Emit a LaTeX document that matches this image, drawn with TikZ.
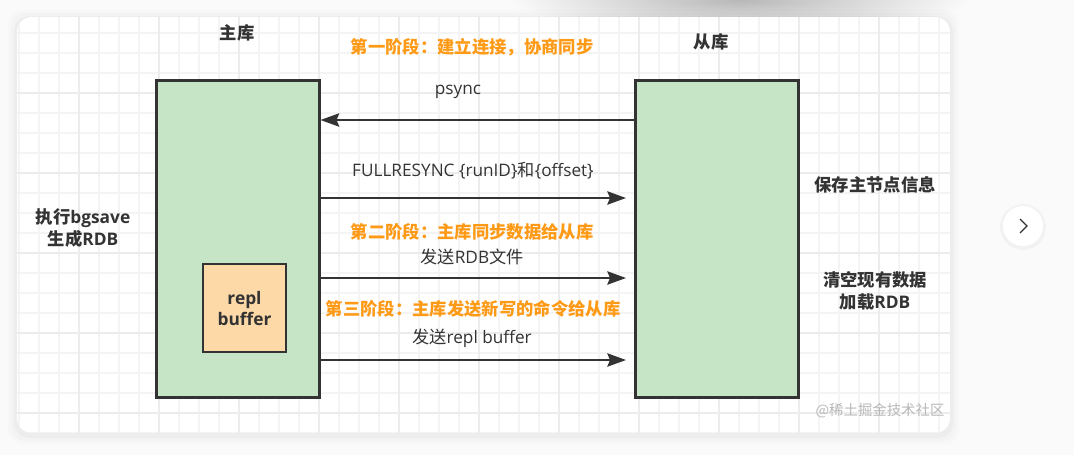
\documentclass[tikz,border=0pt]{standalone}
\usepackage{fontspec}
\setmainfont{Noto Sans CJK SC}
\newfontfamily\latinfont{Open Sans}
\usetikzlibrary{arrows.meta}

\definecolor{boxgreen}{HTML}{C6E4C6}
\definecolor{bufferorange}{HTML}{FDD9A8}
\definecolor{phaseorange}{HTML}{FF9A16}
\definecolor{inkgray}{HTML}{333333}
\definecolor{gridminor}{HTML}{F4F4F4}
\definecolor{gridmajor}{HTML}{ECECEC}
\definecolor{pagegray}{HTML}{FAFAFA}
\definecolor{marklight}{HTML}{B8B8B8}

\tikzset{
  dbbox/.style={draw=inkgray, line width=1.9pt, fill=boxgreen, inner sep=0pt,
    minimum width=122.25pt, minimum height=237.75pt, anchor=north west},
  bufbox/.style={draw=inkgray, line width=1.6pt, fill=bufferorange, inner sep=0pt,
    minimum width=62.25pt, minimum height=66pt, align=center,
    font=\bfseries\fontsize{13}{15.75}\selectfont, text=inkgray},
  dbtitle/.style={font=\bfseries\fontsize{13}{16}\selectfont, text=inkgray},
  phasetext/.style={font=\bfseries\fontsize{13}{16}\selectfont, text=phaseorange},
  msgtext/.style={font=\fontsize{12.9}{15}\selectfont, text=inkgray},
  sidenote/.style={font=\bfseries\fontsize{13}{16.5}\selectfont, text=inkgray, align=center},
  msgarrow/.style={draw=inkgray, line width=1.5pt,
    -{Stealth[length=14pt, width=10pt, inset=2pt]}}
}

\begin{document}
\begin{tikzpicture}[x=0.75pt, y=-0.75pt]
\useasboundingbox (0,0) rectangle (1074,455);
\fill[pagegray] (0,0) rectangle (1074,455);

% shadow of the header above
\shade[inner color=black!28, outer color=pagegray] (740,0) ellipse [x radius=230, y radius=34];

% card with soft shadow
\foreach \s/\o in {9/0.012, 6/0.016, 3/0.022}
  \fill[black, opacity=\o, rounded corners=11.25pt] (17-\s,19-\s) rectangle (950+\s,435+\s);
\begin{scope}
  \clip[rounded corners=11.25pt] (17,17) rectangle (950,433);
  \fill[white] (17,17) rectangle (950,433);
  \foreach \gx in {19,39,...,959}
    \draw[gridminor, line width=0.9pt] (\gx,17) -- (\gx,433);
  \foreach \gy in {13,33,...,453}
    \draw[gridminor, line width=0.9pt] (17,\gy) -- (950,\gy);
  \foreach \gx in {79,159,...,959}
    \draw[gridmajor, line width=0.9pt] (\gx,17) -- (\gx,433);
  \foreach \gy in {93,173,...,413}
    \draw[gridmajor, line width=0.9pt] (17,\gy) -- (950,\gy);
\end{scope}

% the two databases
\node[dbbox] (master) at (155,79) {};
\node[dbbox] (slave) at (634,79) {};
\node[bufbox] (replbuf) at (244.5,308) {{\latinfont repl}\\{\latinfont buffer}};

\node[dbtitle] (mastertitle) at (237,33) {主库};
\node[dbtitle] (slavetitle) at (711,42) {从库};

% phase 1
\node[phasetext] (phaseone) at (472,47) {第一阶段：建立连接，协商同步};
\node[msgtext] (psync) at (458,92) {\latinfont psync};
\draw[msgarrow] (slave.west |- 0,120) -- (master.east |- 0,120);
\node[msgtext] (fullresync) at (473,171) {{\latinfont FULLRESYNC \{runID\}}和{\latinfont \{offset\}}};
\draw[msgarrow, shorten >=6pt] (master.east |- 0,198) -- (slave.west |- 0,198);

% phase 2
\node[phasetext] (phasetwo) at (472,232) {第二阶段：主库同步数据给从库};
\node[msgtext] (sendrdb) at (472,257) {发送{\latinfont RDB}文件};
\draw[msgarrow, shorten >=6pt] (master.east |- 0,278) -- (slave.west |- 0,278);

% phase 3
\node[phasetext] (phasethree) at (473,309) {第三阶段：主库发送新写的命令给从库};
\node[msgtext] (sendbuf) at (472,338) {发送{\latinfont repl buffer}};
\draw[msgarrow, shorten >=6pt] (master.east |- 0,360) -- (slave.west |- 0,360);

% side notes
\node[sidenote] (bgsave) at (83,228) {执行{\latinfont bgsave}\\生成{\latinfont RDB}};
\node[sidenote] (saveinfo) at (875,185) {保存主节点信息};
\node[sidenote] (loadrdb) at (875,291) {清空现有数据\\加载{\latinfont RDB}};

\node[font=\fontsize{10.8}{13}\selectfont, text=marklight] (mark) at (880,411) {@稀土掘金技术社区};

% next button
\fill[black, opacity=0.03] (1023,227) circle [radius=23];
\fill[white] (1023,226) circle [radius=20];
\coordinate (chevtop) at (1020,219);
\coordinate (chevtip) at (1027,226);
\coordinate (chevbot) at (1020,233);
\draw[inkgray, line width=0.9pt, line join=miter] (chevtop) -- (chevtip) -- (chevbot);
\end{tikzpicture}
\end{document}
